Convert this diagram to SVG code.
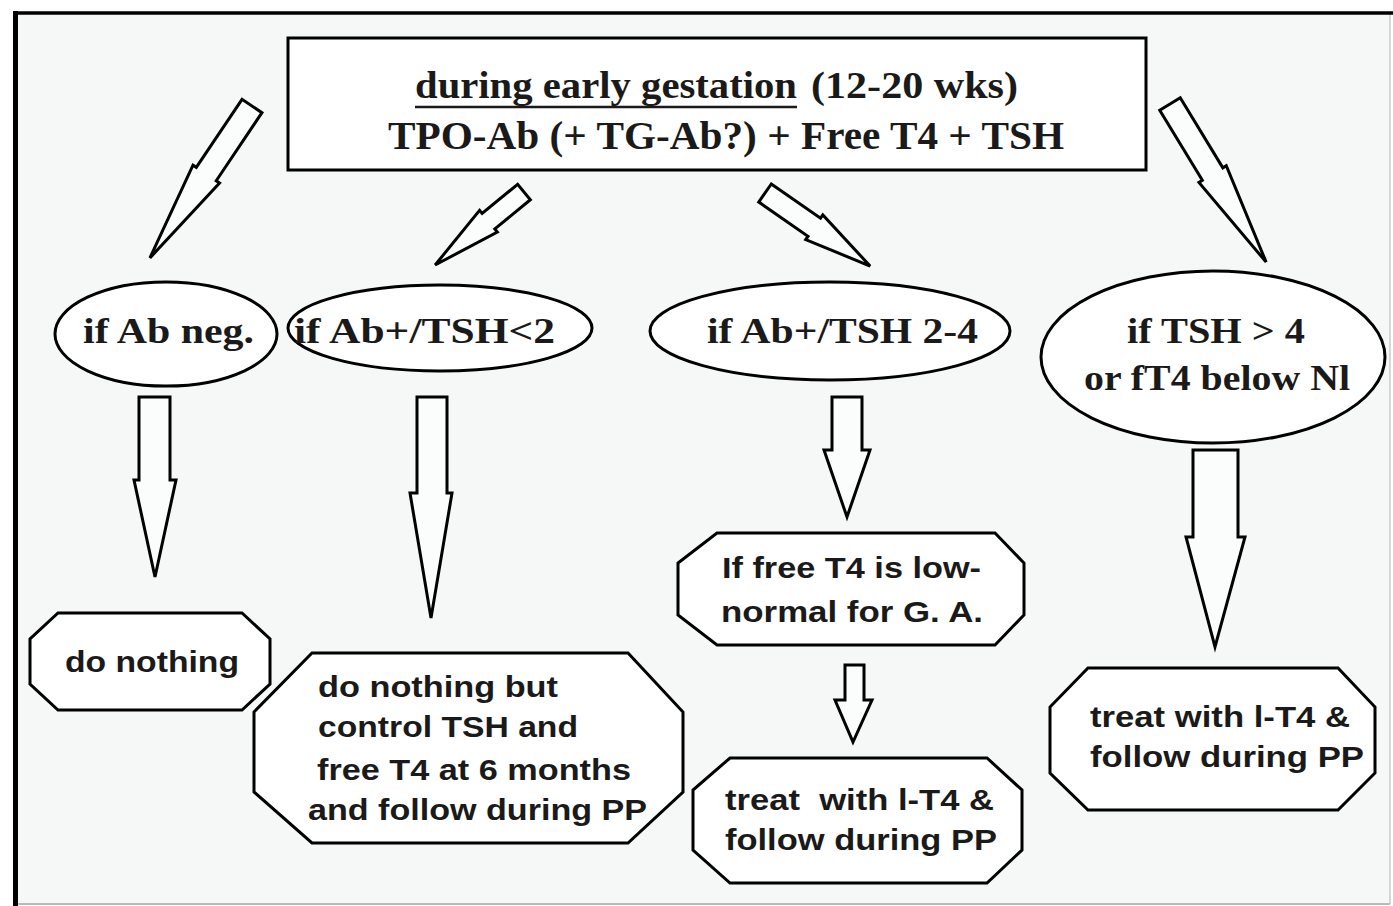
<svg xmlns="http://www.w3.org/2000/svg" width="1393" height="906" viewBox="0 0 1393 906">
<style>
.sh{fill:#ffffff;stroke:#000;stroke-width:3;stroke-linejoin:miter}
.ar{fill:#fbfcfc;stroke:#000;stroke-width:3;stroke-linejoin:miter}
.ser{font-family:"Liberation Serif","Times New Roman",serif;font-weight:bold;fill:#1a1a1a}
.san{font-family:"Liberation Sans",Arial,sans-serif;font-weight:bold;font-size:30px;fill:#1a1a1a}
</style>
<rect x="0" y="0" width="1393" height="906" fill="#ffffff"/>
<rect x="15" y="13" width="1375" height="891" fill="#f5f8f7"/>
<line x1="1390" y1="13" x2="1390" y2="904" stroke="#c8cbca" stroke-width="1.5"/>
<line x1="15" y1="904" x2="1390" y2="904" stroke="#b8bbba" stroke-width="2"/>
<line x1="13" y1="13" x2="1393" y2="13" stroke="#000" stroke-width="3.5"/>
<line x1="15.5" y1="11" x2="15.5" y2="906" stroke="#000" stroke-width="5"/>
<g id="top">
<rect x="288" y="38" width="858" height="132" class="sh" fill="#fafbfb"/>
<text class="ser" x="415" y="98" font-size="37" textLength="382" lengthAdjust="spacingAndGlyphs">during early gestation</text>
<line x1="415" y1="107" x2="797" y2="107" stroke="#1a1a1a" stroke-width="2.5"/>
<text class="ser" x="811" y="98" font-size="37" textLength="207" lengthAdjust="spacingAndGlyphs">(12-20 wks)</text>
<text class="ser" x="388" y="149" font-size="39" textLength="676" lengthAdjust="spacingAndGlyphs">TPO-Ab (+ TG-Ab?) + Free T4 + TSH</text>
</g>
<g id="connectors">
<path class="ar" transform="translate(252,106) rotate(123.9)" d="M0,-12 L82,-12 L82,-16 L183,0 L82,16 L82,12 L0,12 Z"/>
<path class="ar" transform="translate(524,192) rotate(140.6)" d="M0,-10 L46,-10 L46,-14 L115,0 L46,14 L46,10 L0,10 Z"/>
<path class="ar" transform="translate(765,193) rotate(34.8)" d="M0,-11 L60,-11 L60,-15 L128,0 L60,15 L60,11 L0,11 Z"/>
<path class="ar" transform="translate(1170,104) rotate(58.7)" d="M0,-12 L82,-12 L82,-16 L185,0 L82,16 L82,12 L0,12 Z"/>
<path class="ar" d="M139,397 L170,397 L170,480 L176,480 L155,577 L134,480 L139,480 Z"/>
<path class="ar" d="M417,397 L447,397 L447,493 L452,493 L431,618 L410,493 L417,493 Z"/>
<path class="ar" d="M832,397 L862,397 L862,450 L870,450 L847,517 L824,450 L832,450 Z"/>
<path class="ar" d="M1193,450 L1238,450 L1238,537 L1245,537 L1215,647 L1186,537 L1193,537 Z"/>
<path class="ar" d="M845,665 L864,665 L864,700 L872,700 L853,742 L835,700 L845,700 Z"/>
</g>
<g id="e1">
<ellipse cx="166" cy="334" rx="111" ry="52" class="sh"/>
<text class="ser" x="83" y="343" font-size="36" textLength="171" lengthAdjust="spacingAndGlyphs">if Ab neg.</text>
</g>
<g id="e2">
<ellipse cx="440" cy="328" rx="152" ry="43" class="sh"/>
<text class="ser" x="294" y="343" font-size="36" textLength="261" lengthAdjust="spacingAndGlyphs">if Ab+/TSH&lt;2</text>
</g>
<g id="e3">
<ellipse cx="830" cy="331" rx="180" ry="49" class="sh"/>
<text class="ser" x="707" y="343" font-size="36" textLength="271" lengthAdjust="spacingAndGlyphs">if Ab+/TSH 2-4</text>
</g>
<g id="e4">
<ellipse cx="1213" cy="357" rx="172" ry="86" class="sh"/>
<text class="ser" x="1127" y="343" font-size="36" textLength="178" lengthAdjust="spacingAndGlyphs">if TSH &gt; 4</text>
<text class="ser" x="1084" y="390" font-size="36" textLength="266" lengthAdjust="spacingAndGlyphs">or fT4 below Nl</text>
</g>
<g id="o1">
<path class="sh" d="M58,613 L242,613 L270,639 L270,684 L242,710 L58,710 L30,684 L30,639 Z"/>
<text class="san" x="65" y="672" textLength="174" lengthAdjust="spacingAndGlyphs">do nothing</text>
</g>
<g id="o2">
<path class="sh" d="M312,653 L628,653 L683,712 L683,792 L628,843 L312,843 L254,792 L254,712 Z"/>
<text class="san" x="318" y="697" textLength="240" lengthAdjust="spacingAndGlyphs">do nothing but</text>
<text class="san" x="318" y="737" textLength="260" lengthAdjust="spacingAndGlyphs">control TSH and</text>
<text class="san" x="317" y="780" textLength="314" lengthAdjust="spacingAndGlyphs">free T4 at 6 months</text>
<text class="san" x="308" y="820" textLength="339" lengthAdjust="spacingAndGlyphs">and follow during PP</text>
</g>
<g id="o3">
<path class="sh" d="M717,533 L995,533 L1024,563 L1024,615 L995,645 L717,645 L678,615 L678,563 Z"/>
<text class="san" x="722" y="578" textLength="259" lengthAdjust="spacingAndGlyphs">If free T4 is low-</text>
<text class="san" x="721" y="622" textLength="262" lengthAdjust="spacingAndGlyphs">normal for G. A.</text>
</g>
<g id="o4">
<path class="sh" d="M730,758 L987,758 L1022,790 L1022,850 L987,883 L730,883 L693,850 L693,790 Z"/>
<text class="san" x="725" y="810" textLength="269" lengthAdjust="spacingAndGlyphs" xml:space="preserve">treat  with l-T4 &amp;</text>
<text class="san" x="725" y="850" textLength="272" lengthAdjust="spacingAndGlyphs">follow during PP</text>
</g>
<g id="o5">
<path class="sh" d="M1088,668 L1338,668 L1375,707 L1375,773 L1338,810 L1088,810 L1050,773 L1050,707 Z"/>
<text class="san" x="1090" y="727" textLength="260" lengthAdjust="spacingAndGlyphs">treat with l-T4 &amp;</text>
<text class="san" x="1090" y="767" textLength="274" lengthAdjust="spacingAndGlyphs">follow during PP</text>
</g>
</svg>
